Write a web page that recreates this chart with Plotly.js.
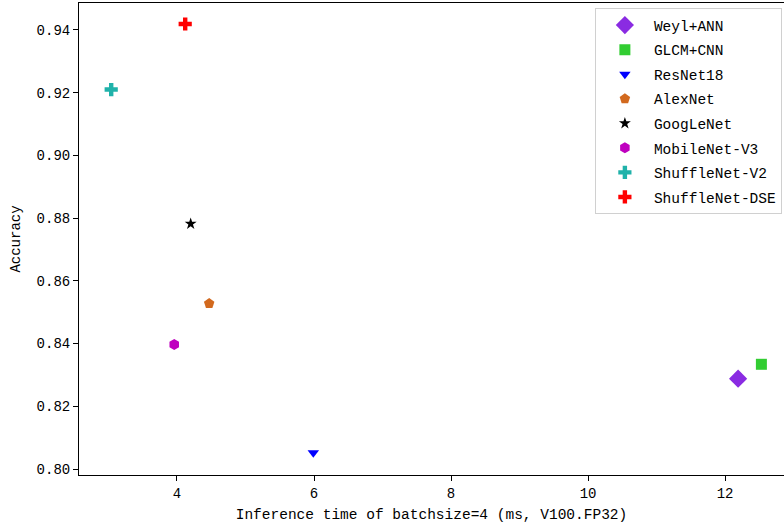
<!DOCTYPE html>
<html><head><meta charset="utf-8">
<script src="https://cdn.plot.ly/plotly-3.0.1.min.js"></script>
<style>body{margin:0;background:#fff}#chart{width:784px;height:532px}</style>
</head><body><div id="chart"></div>
<script>
const models = ["Weyl+ANN","GLCM+CNN","ResNet18","AlexNet","GoogLeNet","MobileNet-V3","ShuffleNet-V2","ShuffleNet-DSE"];
const inferenceTime = [12.19, 12.53, 5.99, 4.47, 4.20, 3.96, 3.04, 4.12];
const accuracy = [0.8288, 0.8334, 0.8052, 0.8528, 0.8782, 0.8397, 0.9210, 0.9419];
const colors = ["#8a2be2","#32cd32","#0000ff","#d2691e","#000000","#bf00bf","#20b2aa","#ff0000"];
const symbols = ["diamond","square","triangle-down","pentagon","star","hexagon","cross","cross"];
const sizes = [14, 11, 10, 11, 9, 11, 11, 11];

const FONT = "Liberation Mono, DejaVu Sans Mono, monospace";
const traces = models.map((m,i)=>({
  type:"scatter", mode:"markers", name:m, legendgroup:"g"+i,
  x:[inferenceTime[i]], y:[accuracy[i]],
  marker:{symbol:symbols[i], color:colors[i], size:sizes[i], line:{width:0}}
}));
const layout = {
  width:784, height:532,
  margin:{l:79, r:0, t:3, b:57},
  paper_bgcolor:"#fff", plot_bgcolor:"#fff",
  font:{family:FONT, size:14, color:"#000"},
  showlegend:true,
  legend:{x:0.997, xanchor:"right", y:0.989, yanchor:"top", bordercolor:"#d0d0d0", borderwidth:1,
          bgcolor:"rgba(255,255,255,0.8)", font:{family:FONT, size:14.5},
          tracegroupgap:2.7, itemwidth:48},
  xaxis:{range:[2.57,12.86], tickvals:[4,6,8,10,12], ticks:"outside", ticklen:5, tickcolor:"#000",
         showline:true, linecolor:"#000", linewidth:1, mirror:true, showgrid:false, zeroline:false,
         tickfont:{family:FONT, size:14},
         title:{text:"Inference time of batchsize=4 (ms, V100.FP32)", font:{family:FONT, size:14.5}, standoff:8}},
  yaxis:{range:[0.7981,0.9486], tickvals:[0.80,0.82,0.84,0.86,0.88,0.90,0.92,0.94], tickformat:".2f",
         ticks:"outside", ticklen:5, tickcolor:"#000",
         showline:true, linecolor:"#000", linewidth:1, mirror:false, showgrid:false, zeroline:false,
         tickfont:{family:FONT, size:14},
         title:{text:"Accuracy", font:{family:FONT, size:14}, standoff:12}}
};
Plotly.newPlot("chart", traces, layout, {displayModeBar:false, staticPlot:true});
</script></body></html>
